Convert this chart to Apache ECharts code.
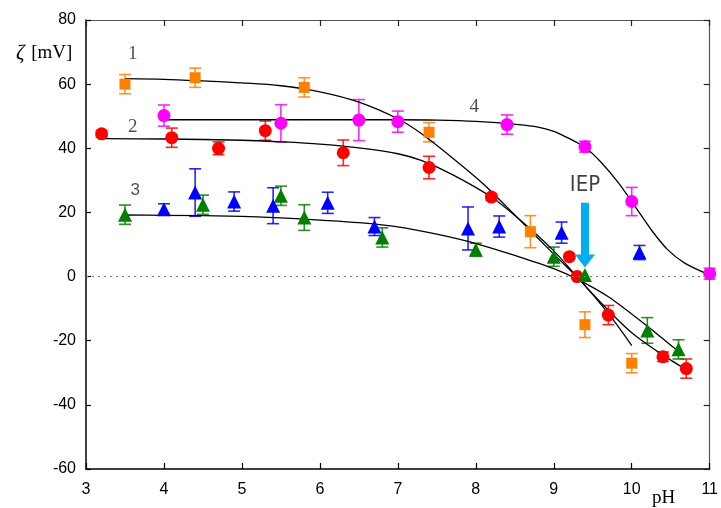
<!DOCTYPE html>
<html>
<head>
<meta charset="utf-8">
<script src="https://cdn.jsdelivr.net/npm/echarts@6/dist/echarts.min.js"></script>
<style>
  html, body { margin: 0; padding: 0; background: #fff; }
  #chart { width: 721px; height: 508px; }
</style>
</head>
<body>
<div id="chart"></div>
<script>
// Measured zeta potential vs pH, four suspensions (value, ± error)
const orangeX   = [3.5, 4.4, 5.8, 7.4, 8.7, 9.4, 10.0];
const orangeY   = [60, 62, 59, 45, 14, -15, -27];
const orangeErr = [3, 3, 3, 3, 5, 4, 3];

const redX   = [3.2, 4.1, 4.7, 5.3, 6.3, 7.4, 8.2, 9.2, 9.3, 9.7, 10.4, 10.7];
const redY   = [44.5, 43.3, 40, 45.5, 38.6, 34, 24.8, 6.2, 0, -12, -25, -28.7];
const redErr = [1, 3, 2, 3, 4, 3.5, 1, 0, 0, 3, 1.5, 3];

const greenX   = [3.5, 4.5, 5.5, 5.8, 6.8, 8.0, 9.0, 9.4, 10.2, 10.6];
const greenY   = [19.3, 22.4, 25.2, 18.4, 12.2, 8.4, 6.2, 0.5, -16.8, -22.7];
const greenErr = [3, 3, 3, 4, 3, 2, 3, 0, 4, 3];

const blueX   = [4.0, 4.4, 4.9, 5.4, 6.1, 6.7, 7.9, 8.3, 9.1, 10.1];
const blueY   = [21, 26.2, 23.4, 22.1, 23, 15.6, 15, 15.6, 13.7, 7.5];
const blueErr = [1.7, 7.4, 3, 5.6, 3.3, 2.8, 6.7, 3.3, 3.3, 2.2];

const magentaX   = [4.0, 5.5, 6.5, 7.0, 8.4, 9.4, 10.0, 11.0];
const magentaY   = [50.2, 47.8, 48.8, 48.3, 47.4, 40.5, 23.4, 0.9];
const magentaErr = [3.3, 5.8, 6.4, 3.3, 3, 1.7, 4.4, 1.7];

// Fitted curves 1–4 (pH, zeta)
const fit1X = [3.5, 4.0, 4.5, 5.0, 5.5, 6.0, 6.5, 7.0, 7.3, 7.7, 8.1, 8.55, 9.0, 9.35, 9.7, 10.0];
const fit1Y = [61.7, 61.5, 61.0, 60.4, 59.5, 57.6, 54.4, 49.2, 44.6, 37.0, 28.8, 18, 7, -1.5, -11.5, -21.5];
const fit2X = [3.2, 4.0, 5.0, 5.5, 6.0, 6.5, 7.0, 7.3, 7.7, 8.2, 8.55, 9.0, 9.35, 9.7, 10.0, 10.4, 10.7];
const fit2Y = [43, 42.9, 42.5, 42, 41.3, 40.1, 38.3, 36.2, 31.8, 24.8, 18, 8, -1.5, -10.5, -17.5, -24.5, -29];
const fit3X = [3.5, 4.0, 5.0, 5.5, 6.0, 6.5, 7.0, 7.5, 8.0, 8.5, 9.0, 9.3, 9.7, 10.2, 10.6];
const fit3Y = [19.2, 19.1, 18.8, 18.3, 17.6, 16.8, 15.5, 13.2, 10.3, 6.6, 2.5, -0.8, -6.3, -15.5, -23.4];
const fit4X = [4.0, 5.0, 6.0, 7.0, 7.5, 8.0, 8.55, 8.8, 9.0, 9.2, 9.4, 9.6, 9.82, 10.04, 10.25, 10.46, 10.68, 11.0];
const fit4Y = [48.9, 48.9, 48.9, 48.9, 48.8, 48.4, 47.4, 46.6, 45.3, 43, 40.3, 35.8, 29.5, 22, 14.6, 8.4, 4.2, 0.5];

// Curve labels and the IEP marker
const curveLabels = ['1', '2', '3', '4'];
const curveLabelX = [3.6, 3.6, 3.63, 7.98];
const curveLabelY = [69.5, 46.5, 27, 53];
const iepText = 'IEP';
const iepX = 9.4;
const iepTextY = 28.5;
const iepArrowFrom = 23;
const iepArrowTo = 2.8;

const zip = (xs, ys) => xs.map((x, i) => [x, ys[i]]);
const zip3 = (xs, ys, es) => xs.map((x, i) => [x, ys[i], es[i]]);

function errorBars(color) {
  return function (params, api) {
    const x = api.value(0), y = api.value(1), e = api.value(2);
    if (!e) return { type: 'group', children: [] };
    const t = api.coord([x, y + e]);
    const b = api.coord([x, y - e]);
    const w = 6;
    const st = { stroke: color, lineWidth: 1.6, opacity: 0.85 };
    return {
      type: 'group',
      children: [
        { type: 'line', shape: { x1: t[0], y1: t[1], x2: b[0], y2: b[1] }, style: st },
        { type: 'line', shape: { x1: t[0] - w, y1: t[1], x2: t[0] + w, y2: t[1] }, style: st },
        { type: 'line', shape: { x1: b[0] - w, y1: b[1], x2: b[0] + w, y2: b[1] }, style: st }
      ]
    };
  };
}

function errSeries(xs, ys, es, color) {
  return {
    type: 'custom', renderItem: errorBars(color), data: zip3(xs, ys, es),
    encode: { x: 0, y: 1 }, z: 2, clip: false, silent: true
  };
}
function markSeries(xs, ys, color, symbol, size) {
  return {
    type: 'scatter', data: zip(xs, ys), symbol: symbol, symbolSize: size,
    itemStyle: { color: color, opacity: 1 }, z: 4, clip: false, silent: true
  };
}
function fitSeries(xs, ys) {
  return {
    type: 'line', data: zip(xs, ys), smooth: 0.3,
    showSymbol: false, symbol: 'none',
    lineStyle: { color: '#000', width: 1.3 }, z: 3, silent: true, clip: false
  };
}

const tickFont = { fontFamily: 'Liberation Sans, Arial, sans-serif', fontSize: 16, color: '#000' };
const serif = 'Liberation Serif, Times New Roman, serif';

const chart = echarts.init(document.getElementById('chart'), null, { renderer: 'canvas' });
chart.setOption({
  animation: false,
  backgroundColor: '#fff',
  grid: { left: 86, right: 9, top: 20, bottom: 39, containLabel: false },
  xAxis: [
    {
      type: 'value', min: 3, max: 11, interval: 1,
      axisLine: { show: true, onZero: false, lineStyle: { color: '#000', width: 1.5 } },
      axisTick: { show: true, inside: true, length: 6, lineStyle: { color: '#000', width: 1.2 } },
      axisLabel: Object.assign({ margin: 13 }, tickFont),
      splitLine: { show: false }
    },
    {
      type: 'value', min: 3, max: 11, interval: 1, position: 'top',
      axisLine: { show: true, onZero: false, lineStyle: { color: '#555', width: 1.2 } },
      axisTick: { show: true, inside: true, length: 6, lineStyle: { color: '#222', width: 1.2 } },
      axisLabel: { show: false }, splitLine: { show: false }
    }
  ],
  yAxis: [
    {
      type: 'value', min: -60, max: 80, interval: 20,
      axisLine: { show: true, onZero: false, lineStyle: { color: '#000', width: 1.5 } },
      axisTick: { show: true, inside: true, length: 5, lineStyle: { color: '#000', width: 1.2 } },
      axisLabel: Object.assign({ margin: 10 }, tickFont),
      splitLine: { show: false }
    },
    {
      type: 'value', min: -60, max: 80, interval: 20, position: 'right',
      axisLine: { show: true, onZero: false, lineStyle: { color: '#555', width: 1.2 } },
      axisTick: { show: true, inside: true, length: 6, lineStyle: { color: '#222', width: 1.2 } },
      axisLabel: { show: false }, splitLine: { show: false }
    }
  ],
  series: [
    {
      type: 'line', data: [], silent: true,
      markLine: {
        silent: true, symbol: ['none', 'none'], label: { show: false },
        lineStyle: { color: '#777', type: [2, 4], width: 1.2 },
        data: [{ yAxis: 0 }]
      }
    },
    fitSeries(fit1X, fit1Y),
    fitSeries(fit2X, fit2Y),
    fitSeries(fit3X, fit3Y),
    fitSeries(fit4X, fit4Y),
    errSeries(orangeX, orangeY, orangeErr, '#FF8000'),
    errSeries(redX, redY, redErr, '#FF0000'),
    errSeries(greenX, greenY, greenErr, '#008000'),
    errSeries(blueX, blueY, blueErr, '#0000FF'),
    errSeries(magentaX, magentaY, magentaErr, '#FF00FF'),
    markSeries(orangeX, orangeY, '#FF8000', 'rect', 11),
    markSeries(redX, redY, '#FF0000', 'circle', 13),
    markSeries(greenX, greenY, '#008000', 'triangle', 14),
    markSeries(blueX, blueY, '#0000FF', 'triangle', 14),
    markSeries(magentaX, magentaY, '#FF00FF', 'circle', 13),
    {
      // curve numbers ("3" is set in a sans face)
      type: 'scatter', symbolSize: 0, silent: true, z: 5,
      data: curveLabels.map((t, i) => ({
        value: [curveLabelX[i], curveLabelY[i]], name: t,
        label: t === '3' ? { fontFamily: 'Liberation Sans, Arial, sans-serif', fontSize: 17 } : {}
      })),
      label: {
        show: true, position: 'inside', formatter: p => p.name,
        fontFamily: serif, fontSize: 19, color: '#222'
      }
    },
    {
      // IEP arrow
      type: 'custom', silent: true, z: 6, clip: false,
      data: [[iepX, iepArrowFrom, iepArrowTo]],
      encode: { x: 0, y: 1 },
      renderItem: function (params, api) {
        const a = api.coord([api.value(0), api.value(1)]);
        const b = api.coord([api.value(0), api.value(2)]);
        const hw = 4, headW = 10, headH = 13;
        const x = a[0];
        return {
          type: 'polygon',
          shape: {
            points: [
              [x - hw, a[1]], [x + hw, a[1]], [x + hw, b[1] - headH], [x + headW, b[1] - headH],
              [x, b[1]], [x - headW, b[1] - headH], [x - hw, b[1] - headH]
            ]
          },
          style: { fill: '#00AEEF' }
        };
      }
    },
    {
      type: 'scatter', symbolSize: 0, silent: true, z: 6,
      data: [{ value: [iepX, iepTextY], name: iepText }],
      label: {
        show: true, position: 'inside', formatter: p => p.name,
        fontFamily: 'DejaVu Sans Condensed, Liberation Sans, sans-serif', fontSize: 22, color: '#111'
      }
    }
  ],
  graphic: [
    {
      type: 'text', left: 16, top: 43,
      style: {
        text: '{z|ζ}  {u|[mV]}',
        rich: {
          z: { fontFamily: serif, fontStyle: 'italic', fontSize: 21, fill: '#000' },
          u: { fontFamily: serif, fontSize: 19, fill: '#000' }
        }
      }
    },
    {
      type: 'text', left: 652, top: 489,
      style: { text: 'pH', fontFamily: serif, fontSize: 19, fill: '#000' }
    }
  ]
});
</script>
</body>
</html>
